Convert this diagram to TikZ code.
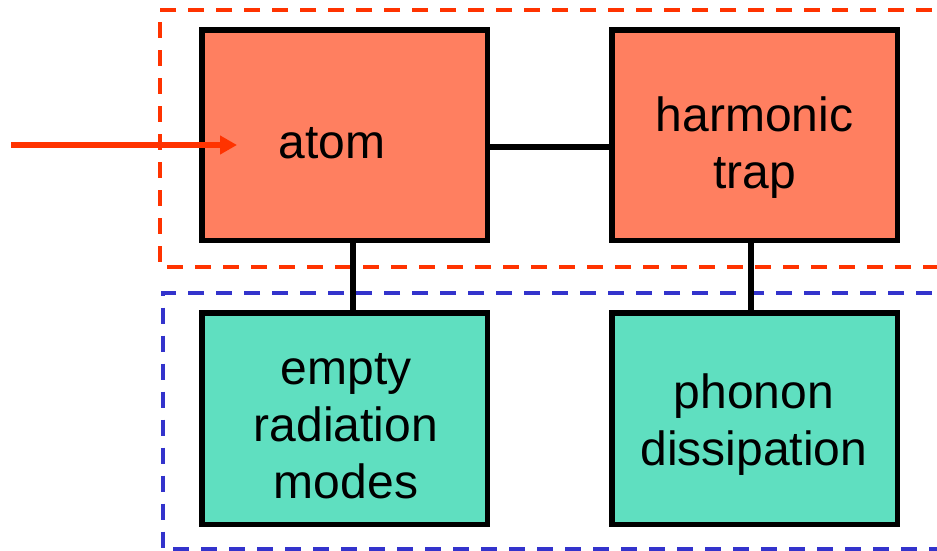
\documentclass[tikz,border=0pt]{standalone}
\usepackage{fontspec}
\setmainfont{Liberation Sans}
\usetikzlibrary{arrows.meta}
\definecolor{boxred}{HTML}{FF7F60}
\definecolor{boxgreen}{HTML}{5FDFC0}
\definecolor{dashred}{HTML}{FF3300}
\definecolor{dashblue}{HTML}{3333CC}
\tikzset{
  blockbox/.style={draw=black, line width=5.5pt, rectangle, inner sep=0pt,
    minimum width=285.5pt, minimum height=210.5pt},
  lowbox/.style={blockbox, fill=boxgreen, minimum height=211.5pt},
  highbox/.style={blockbox, fill=boxred},
  groupline/.style={line width=4pt, dash pattern=on 16pt off 12pt},
  wire/.style={draw=black, line width=5.3pt},
  lbl/.style={inner sep=0pt, align=center, font=\fontsize{48}{57}\selectfont},
  inarrow/.style={draw=dashred, line width=6pt, -{Triangle[length=17pt,width=18pt]}}
}
\begin{document}
\begin{tikzpicture}[x=1pt,y=-1pt]
\useasboundingbox (0,0) rectangle (937,550);
% group frames
\draw[groupline, draw=dashred] (960,10) -- (160,10) -- (160,267) -- (960,267);
\draw[groupline, draw=dashblue] (960,293) -- (162.5,293) -- (162.5,549) -- (960,549);
% boxes
\node[highbox] (atom) at (344.5,135) {};
\node[highbox] (trap) at (754.5,135) {};
\node[lowbox] (empty) at (344.5,418.5) {};
\node[lowbox] (phonon) at (754.5,418.5) {};
% connectors
\draw[wire] ([yshift=-12pt]atom.east) -- ([yshift=-12pt]atom.east -| trap.west);
\draw[wire] ([xshift=8.5pt]atom.south) -- ([xshift=8.5pt]atom.south |- empty.north);
\draw[wire] ([xshift=-3.5pt]trap.south) -- ([xshift=-3.5pt]trap.south |- phonon.north);
% labels
\node[lbl] (atomlbl) at (332,143) {atom};
\node[lbl] (traplbl) at (754.5,148) {harmonic\\trap};
\node[lbl] (emptylbl) at (346,426) {empty\\radiation\\modes};
\node[lbl] (phononlbl) at (754,425) {phonon\\dissipation};
% input arrow
\coordinate (arrstart) at (11,145);
\coordinate (arrend) at (237,145);
\draw[inarrow] (arrstart) -- (arrend);
\end{tikzpicture}
\end{document}
